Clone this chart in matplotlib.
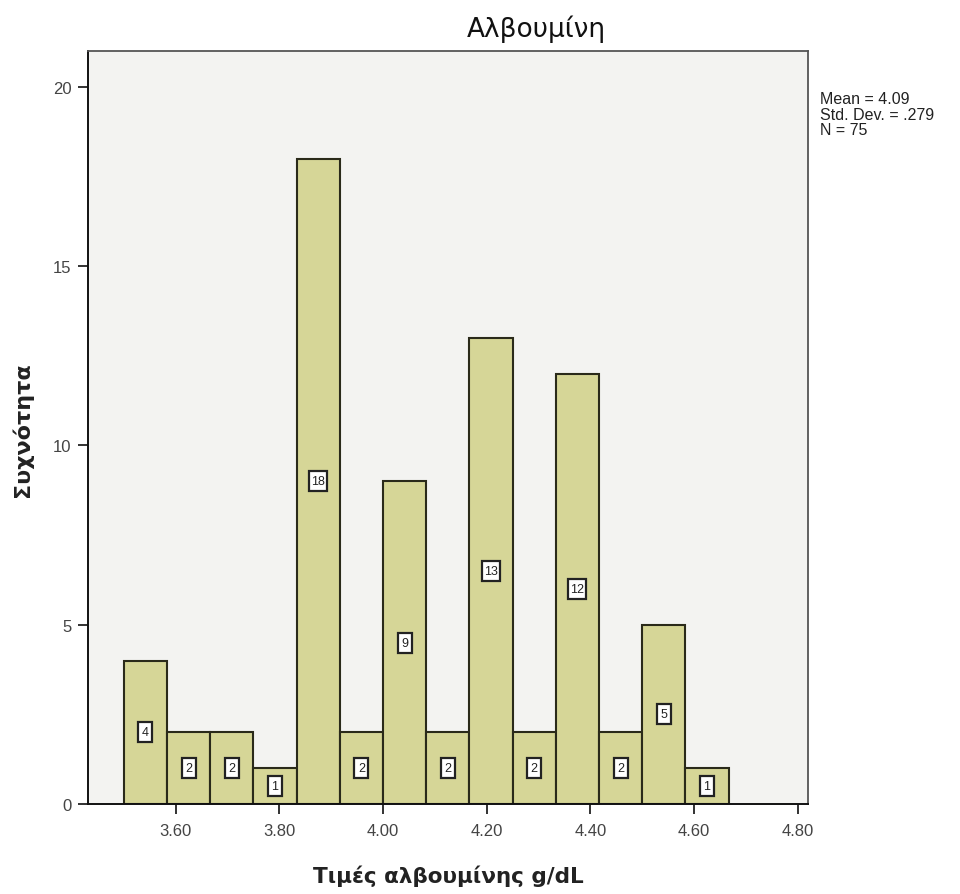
import matplotlib
matplotlib.use("Agg")
import matplotlib.pyplot as plt
import matplotlib.transforms as mtransforms
from matplotlib.patches import Rectangle
import numpy as np

# Data
bin_start = 3.5
bin_width = 1.0 / 12.0
counts = [4, 2, 2, 1, 18, 2, 9, 2, 13, 2, 12, 2, 5, 1]
x_ticks = [3.60, 3.80, 4.00, 4.20, 4.40, 4.60, 4.80]
x_tick_labels = ["3.60", "3.80", "4.00", "4.20", "4.40", "4.60", "4.80"]
y_ticks = [0, 5, 10, 15, 20]
title = "Αλβουμίνη"
xlabel = "Τιμές αλβουμίνης g/dL"
ylabel = "Συχνότητα"
stats_text = "Mean = 4.09\nStd. Dev. = .279\nN = 75"

W, H = 960, 895
fig = plt.figure(figsize=(W / 100, H / 100), dpi=100)
fig.patch.set_facecolor("white")
left, right, bottom, top = 88 / W, 808 / W, 1 - 805 / H, 1 - 52 / H
ax = fig.add_axes([left, bottom, right - left, top - bottom])
ax.set_facecolor("#f3f3f1")

edges = bin_start + bin_width * np.arange(len(counts) + 1)
lefts = edges[:-1]
ax.bar(lefts, counts, width=bin_width, align="edge", color="#d6d697",
       edgecolor="#2a2a1a", linewidth=1.5, zorder=2)

ax.set_xlim(3.431, 4.82)
ax.set_ylim(0, 21.0)

for xl, c in zip(lefts, counts):
    xc, yc = xl + bin_width / 2, c / 2
    bw = 14 if c < 10 else 18
    tr = mtransforms.Affine2D() + mtransforms.ScaledTranslation(xc, yc, ax.transData)
    ax.add_patch(Rectangle((-bw / 2, -10), bw, 20, transform=tr, facecolor="white",
                           edgecolor="#222222", linewidth=1.6, zorder=3,
                           clip_on=False))
    ax.text(xc, yc, str(c), ha="center", va="center", fontsize=9,
            family="Liberation Sans", color="#222222", zorder=4)

ax.set_xticks(x_ticks)
ax.set_xticklabels(x_tick_labels)
ax.set_yticks(y_ticks)
ax.tick_params(axis="both", labelsize=12, colors="#222222", length=7, width=1.3,
               labelcolor="#444444", pad=5)
for lab in ax.get_xticklabels() + ax.get_yticklabels():
    lab.set_family("Liberation Sans")
ax.tick_params(axis="x", pad=7)

for s in ["left", "bottom"]:
    ax.spines[s].set_color("#111111")
    ax.spines[s].set_linewidth(1.4)
for s in ["top", "right"]:
    ax.spines[s].set_color("#555555")
    ax.spines[s].set_linewidth(1.3)

fig.text(536 / W, 1 - 29 / H, title, ha="center", va="center", fontsize=19,
         color="#111111")
fig.text(448 / W, 1 - 876 / H, xlabel, ha="center", va="center", fontsize=15.5,
         fontweight="bold", color="#222222")
fig.text(22 / W, 1 - 430 / H, ylabel, ha="center", va="center", fontsize=16,
         fontweight="bold", rotation=90, color="#222222")
fig.text(820 / W, 1 - 92 / H, stats_text, ha="left", va="top", fontsize=11.5,
         family="Liberation Sans", color="#222222", linespacing=1.05)

fig.savefig("out.png", dpi=100)
